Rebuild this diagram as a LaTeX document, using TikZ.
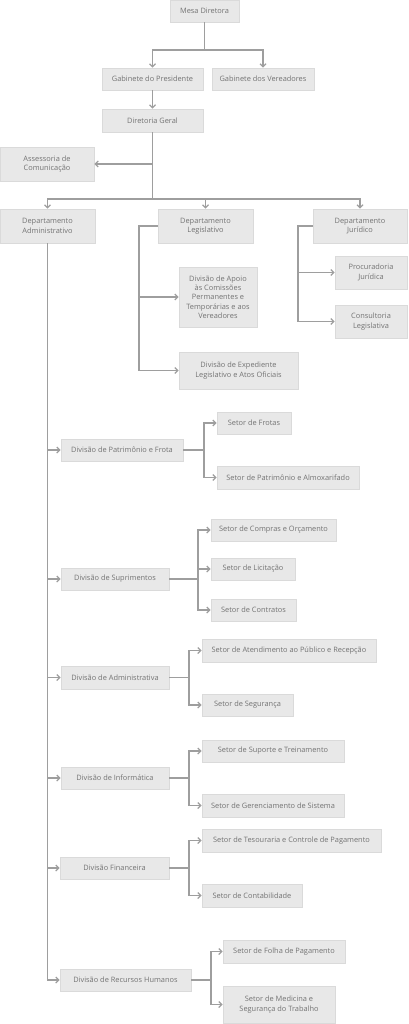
\documentclass[tikz,border=0pt]{standalone}
\usepackage{fontspec}
\setmainfont{Open Sans}
\usetikzlibrary{arrows.meta}
\definecolor{boxfill}{HTML}{E8E8E8}
\definecolor{boxline}{HTML}{DADADA}
\definecolor{txt}{HTML}{737373}
\definecolor{conn}{HTML}{9E9E9E}
\tikzset{
  box/.style={draw=boxline, fill=boxfill, line width=0.8pt, inner sep=0pt, align=center,
    text=txt, font=\fontsize{7.4}{9.3}\selectfont},
  conline/.style={draw=conn, line width=1.2pt},
  arr/.style={conline, -{Straight Barb[length=3pt,width=6pt]}}
}
\begin{document}
\begin{tikzpicture}[x=1pt,y=-1pt]
\useasboundingbox (0,0) rectangle (408,1024);
% top
\node[box, minimum width=69pt, minimum height=22pt] (mesa) at (204.5,11) {Mesa Diretora};
\node[box, minimum width=101pt, minimum height=22pt] (gp) at (152.5,79) {Gabinete do Presidente};
\node[box, minimum width=102pt, minimum height=22pt] (gv) at (263,79) {Gabinete dos Vereadores};
\node[box, minimum width=101pt, minimum height=23pt] (dg) at (152.5,120.5) {Diretoria Geral};
\node[box, minimum width=94pt, minimum height=34pt] (asc) at (47,164) {Assessoria de\\Comunicação};
\node[box, minimum width=95pt, minimum height=34pt] (da) at (47.5,226) {Departamento\\Administrativo};
\node[box, minimum width=95pt, minimum height=34pt] (dl) at (205.5,226) {Departamento\\Legislativo};
\node[box, minimum width=94pt, minimum height=34pt] (dj) at (360,226) {Departamento\\Jurídico};
\node[box, minimum width=78pt, minimum height=60pt] (dap) at (218,297) {Divisão de Apoio\\às Comissões\\Permanentes e\\Temporárias e aos\\Vereadores};
\node[box, minimum width=119pt, minimum height=37pt] (dex) at (238.5,370.5) {Divisão de Expediente\\Legislativo e Atos Oficiais};
\node[box, minimum width=72pt, minimum height=33pt] (pj) at (371,272.5) {Procuradoria\\Jurídica};
\node[box, minimum width=72pt, minimum height=33pt] (cl) at (371,321.5) {Consultoria\\Legislativa};
% divisions
\node[box, minimum width=122pt, minimum height=22pt] (dpf) at (122,450) {Divisão de Patrimônio e Frota};
\node[box, minimum width=108pt, minimum height=22pt] (dsu) at (115,579) {Divisão de Suprimentos};
\node[box, minimum width=108pt, minimum height=23pt] (dad) at (115,677.5) {Divisão de Administrativa};
\node[box, minimum width=108pt, minimum height=22pt] (dinf) at (115,778) {Divisão de Informática};
\node[box, minimum width=109pt, minimum height=22pt] (dfin) at (114.5,868) {Divisão Financeira};
\node[box, minimum width=131pt, minimum height=22pt] (drh) at (125.5,980) {Divisão de Recursos Humanos};
% sectors
\node[box, minimum width=74pt, minimum height=22pt] (sfr) at (254,423) {Setor de Frotas};
\node[box, minimum width=142pt, minimum height=23pt] (spa) at (288,477.5) {Setor de Patrimônio e Almoxarifado};
\node[box, minimum width=125pt, minimum height=22pt] (scp) at (273.5,530) {Setor de Compras e Orçamento};
\node[box, minimum width=84pt, minimum height=22pt] (sli) at (253,569) {Setor de Licitação};
\node[box, minimum width=85pt, minimum height=22pt] (sct) at (253.5,610) {Setor de Contratos};
\node[box, minimum width=174pt, minimum height=23pt] (sat) at (289,650.5) {Setor de Atendimento ao Público e Recepção};
\node[box, minimum width=91pt, minimum height=22pt] (sse) at (247.5,705) {Setor de Segurança};
\node[box, minimum width=142pt, minimum height=22pt] (sst) at (273,751) {Setor de Suporte e Treinamento};
\node[box, minimum width=142pt, minimum height=23pt] (sgs) at (273,805.5) {Setor de Gerenciamento de Sistema};
\node[box, minimum width=179pt, minimum height=23pt] (stc) at (291.5,840.5) {Setor de Tesouraria e Controle de Pagamento};
\node[box, minimum width=100pt, minimum height=23pt] (sco) at (252,895.5) {Setor de Contabilidade};
\node[box, minimum width=122pt, minimum height=23pt] (sfp) at (284,951.5) {Setor de Folha de Pagamento};
\node[box, minimum width=112pt, minimum height=37pt] (smt) at (279,1004.5) {Setor de Medicina e\\Segurança do Trabalho};
% connectors top
\coordinate (tbus) at (204.5,50);
\draw[arr] (mesa.south) -- (tbus) -| (gp.north);
\draw[arr] (tbus) -| (gv.north);
\draw[arr] (gp.south) -- (dg.north);
\coordinate (bus) at (152.5,199);
\draw[arr] (dg.south) |- (asc.east);
\draw[arr] (dg.south) -- (bus) -| (da.north);
\draw[arr] (bus) -| (dl.north);
\draw[arr] (bus) -| (dj.north);
% legislativo
\coordinate (lv) at (139,226);
\draw[arr] (dl.west) -- (lv) |- (dap.west);
\draw[arr] (lv) |- (dex.west);
% juridico
\coordinate (jv) at (298,226);
\draw[arr] (dj.west) -- (jv) |- (pj.west);
\draw[arr] (jv) |- (cl.west);
% administrativo
\draw[arr] (da.south) |- (dpf.west);
\draw[arr] (da.south) |- (dsu.west);
\draw[arr] (da.south) |- (dad.west);
\draw[arr] (da.south) |- (dinf.west);
\draw[arr] (da.south) |- (dfin.west);
\draw[arr] (da.south) |- (drh.west);
% division branches
\coordinate (b1) at (204,450);
\draw[arr] (dpf.east) -- (b1) |- (sfr.west);
\draw[arr] (b1) |- (spa.west);
\coordinate (b2) at (198,579);
\draw[arr] (dsu.east) -- (b2) |- (scp.west);
\draw[arr] (b2) |- (sli.west);
\draw[arr] (b2) |- (sct.west);
\coordinate (b3) at (189,677.5);
\draw[arr] (dad.east) -- (b3) |- (sat.west);
\draw[arr] (b3) |- (sse.west);
\coordinate (b4) at (189,778);
\draw[arr] (dinf.east) -- (b4) |- (sst.west);
\draw[arr] (b4) |- (sgs.west);
\coordinate (b5) at (189,868);
\draw[arr] (dfin.east) -- (b5) |- (stc.west);
\draw[arr] (b5) |- (sco.west);
\coordinate (b6) at (211,980);
\draw[arr] (drh.east) -- (b6) |- (sfp.west);
\draw[arr] (b6) |- (smt.west);
\end{tikzpicture}
\end{document}
